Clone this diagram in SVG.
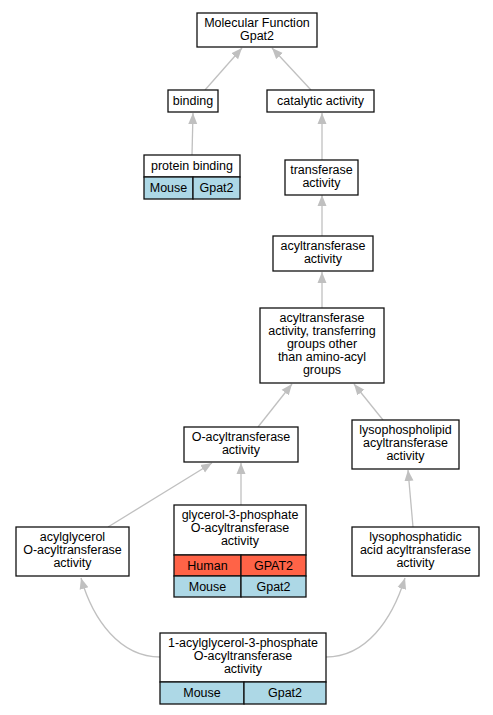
<svg xmlns="http://www.w3.org/2000/svg" width="493" height="715" viewBox="0 0 493 715">
<style>
.box{fill:#fff;stroke:#111;stroke-width:1.3}
.mouse{fill:#add8e6;stroke:#111;stroke-width:1.3}
.human{fill:#ff6347;stroke:#111;stroke-width:1.3}
text{font-family:"Liberation Sans",Arial,sans-serif;font-size:12.5px;fill:#000;text-anchor:middle}
.edge{fill:none;stroke:#c0c0c0;stroke-width:1.3}
</style>
<defs>
<marker id="arr" markerUnits="userSpaceOnUse" markerWidth="11" markerHeight="10" refX="11" refY="5" orient="auto">
<path d="M0,0.5 L11,5 L0,9.5 z" fill="#c0c0c0"/>
</marker>
</defs>
<rect width="493" height="715" fill="#fff"/>
<g id="edges">
<path class="edge" marker-end="url(#arr)" d="M205,90 L242,48"/>
<path class="edge" marker-end="url(#arr)" d="M311,90 L272,48"/>
<path class="edge" marker-end="url(#arr)" d="M192,155 L193,113"/>
<path class="edge" marker-end="url(#arr)" d="M322,160 L322,113"/>
<path class="edge" marker-end="url(#arr)" d="M322,236 L322,195"/>
<path class="edge" marker-end="url(#arr)" d="M322,308 L322,272"/>
<path class="edge" marker-end="url(#arr)" d="M258,427 L292,384"/>
<path class="edge" marker-end="url(#arr)" d="M383,420 L354,384"/>
<path class="edge" marker-end="url(#arr)" d="M108,527 L212,463"/>
<path class="edge" marker-end="url(#arr)" d="M241,505 L241,463"/>
<path class="edge" marker-end="url(#arr)" d="M413,527 L408,470"/>
<path class="edge" marker-end="url(#arr)" d="M160,657 C120,657 93,620 81,578"/>
<path class="edge" marker-end="url(#arr)" d="M326,657 C366,657 392,620 405,578"/>
</g>
<g id="mf">
<rect class="box" x="197" y="13" width="120" height="34"/>
<text x="257" y="26.5">Molecular Function</text>
<text x="257" y="39.5">Gpat2</text>
</g>
<g id="binding">
<rect class="box" x="168" y="90" width="50" height="22"/>
<text x="193" y="105">binding</text>
</g>
<g id="catalytic">
<rect class="box" x="267" y="90" width="107" height="22"/>
<text x="320.5" y="105">catalytic activity</text>
</g>
<g id="protein_binding">
<rect class="box" x="144" y="155" width="96" height="22"/>
<text x="192" y="170">protein binding</text>
<rect class="mouse" x="144" y="177" width="49" height="22"/>
<rect class="mouse" x="193" y="177" width="47" height="22"/>
<text x="168.5" y="192">Mouse</text>
<text x="216.5" y="192">Gpat2</text>
</g>
<g id="transferase">
<rect class="box" x="285" y="160" width="73" height="35"/>
<text x="321.5" y="174">transferase</text>
<text x="321.5" y="187">activity</text>
</g>
<g id="acyltransferase">
<rect class="box" x="273" y="236" width="100" height="35"/>
<text x="323" y="250">acyltransferase</text>
<text x="323" y="263">activity</text>
</g>
<g id="acyl_other">
<rect class="box" x="260" y="308" width="124" height="75"/>
<text x="322" y="322">acyltransferase</text>
<text x="322" y="335">activity, transferring</text>
<text x="322" y="348">groups other</text>
<text x="322" y="361">than amino-acyl</text>
<text x="322" y="374">groups</text>
</g>
<g id="o_acyl">
<rect class="box" x="184" y="427" width="114" height="35"/>
<text x="241" y="441">O-acyltransferase</text>
<text x="241" y="454">activity</text>
</g>
<g id="lysophospholipid">
<rect class="box" x="352" y="420" width="107" height="49"/>
<text x="405.5" y="434">lysophospholipid</text>
<text x="405.5" y="447">acyltransferase</text>
<text x="405.5" y="460">activity</text>
</g>
<g id="acylglycerol">
<rect class="box" x="16" y="527" width="113" height="49"/>
<text x="72.5" y="541">acylglycerol</text>
<text x="72.5" y="554">O-acyltransferase</text>
<text x="72.5" y="567">activity</text>
</g>
<g id="glycerol3p">
<rect class="box" x="174" y="505" width="132" height="50"/>
<text x="240" y="519">glycerol-3-phosphate</text>
<text x="240" y="532">O-acyltransferase</text>
<text x="240" y="545">activity</text>
<rect class="human" x="174" y="555" width="67" height="21"/>
<rect class="human" x="241" y="555" width="65" height="21"/>
<text x="207.5" y="570">Human</text>
<text x="273.5" y="570">GPAT2</text>
<rect class="mouse" x="174" y="576" width="67" height="21"/>
<rect class="mouse" x="241" y="576" width="65" height="21"/>
<text x="207.5" y="591">Mouse</text>
<text x="273.5" y="591">Gpat2</text>
</g>
<g id="lysophosphatidic">
<rect class="box" x="352" y="527" width="127" height="49"/>
<text x="415.5" y="541">lysophosphatidic</text>
<text x="415.5" y="554">acid acyltransferase</text>
<text x="415.5" y="567">activity</text>
</g>
<g id="acylglycerol3p">
<rect class="box" x="160" y="633" width="166" height="49"/>
<text x="243" y="647">1-acylglycerol-3-phosphate</text>
<text x="243" y="660">O-acyltransferase</text>
<text x="243" y="673">activity</text>
<rect class="mouse" x="160" y="682" width="84" height="22"/>
<rect class="mouse" x="244" y="682" width="82" height="22"/>
<text x="202" y="697">Mouse</text>
<text x="285" y="697">Gpat2</text>
</g>
</svg>
